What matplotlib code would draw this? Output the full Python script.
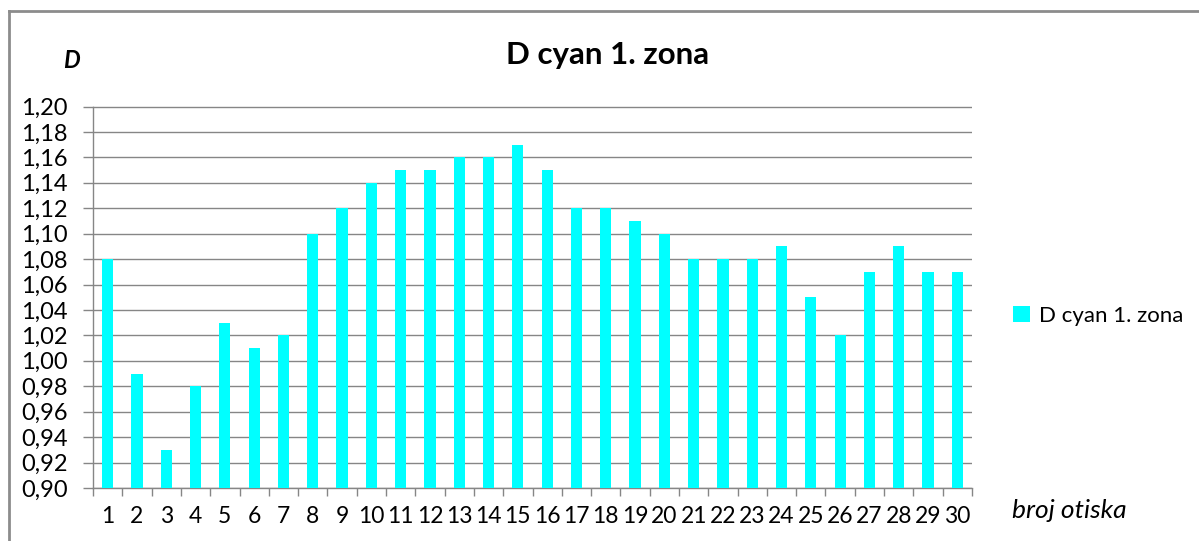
import matplotlib
matplotlib.use("Agg")
import matplotlib.pyplot as plt  # noqa: E402
from matplotlib.lines import Line2D  # noqa: E402
from matplotlib.patches import Patch  # noqa: E402
import numpy as np  # noqa: E402

plt.rcParams["font.family"] = ["Lato", "DejaVu Sans"]

prints = list(range(1, 31))
density = [1.08, 0.99, 0.93, 0.98, 1.03, 1.01, 1.02, 1.10, 1.12, 1.14,
           1.15, 1.15, 1.16, 1.16, 1.17, 1.15, 1.12, 1.12, 1.11, 1.10,
           1.08, 1.08, 1.08, 1.09, 1.05, 1.02, 1.07, 1.09, 1.07, 1.07]
y_ticks = np.round(np.arange(0.90, 1.2001, 0.02), 2)
series_name = "D cyan 1. zona"

W, H = 1199, 541
fig = plt.figure(figsize=(W / 100, H / 100), dpi=100)
ax = fig.add_axes([93 / W, 1 - 488 / H, (972 - 93) / W, (488 - 106.5) / H])

grid_c = "#868686"
x = np.arange(len(prints))
ax.bar(x, [d - 0.90 for d in density], bottom=0.90, width=0.38,
       color="#00FFFF", zorder=3)

ax.set_xlim(-0.5, len(prints) - 0.5)
ax.set_ylim(0.90, 1.20)
ax.set_yticks(y_ticks)
ax.set_yticklabels([f"{v:.2f}".replace(".", ",") for v in y_ticks])
ax.yaxis.grid(True, color=grid_c, linewidth=1.0, zorder=0)

ax.set_xticks(np.arange(-0.5, len(prints), 1.0))
ax.set_xticklabels([])
ax.set_xticks(x, minor=True)
ax.set_xticklabels([str(p) for p in prints], minor=True)
ax.tick_params(axis="x", which="major", direction="out", length=6,
               color=grid_c, width=1.0)
ax.tick_params(axis="x", which="minor", length=0, pad=13, labelsize=16.5)
ax.tick_params(axis="y", direction="out", length=7, color=grid_c,
               width=1.0, labelsize=17, pad=11)

for side in ["top", "right"]:
    ax.spines[side].set_visible(False)
for side in ["left", "bottom"]:
    ax.spines[side].set_color(grid_c)
    ax.spines[side].set_linewidth(1.0)

fig.text(608 / W, 1 - 55 / H, "D cyan 1. zona", ha="center", va="center",
         fontsize=22.5, fontweight="bold")
fig.text(71 / W, 1 - 60 / H, "D", ha="center", va="center",
         fontsize=17, fontweight="bold", style="italic")
fig.text(1069 / W, 1 - 511 / H, "broj otiska", ha="center", va="center",
         fontsize=19, style="italic")

handles = [Patch(facecolor="#00FFFF", edgecolor="none")]
fig.legend(handles, [series_name], loc="center left",
           bbox_to_anchor=(1013 / W, 1 - 316 / H), frameon=False,
           fontsize=16, handlelength=0.75, handleheight=0.75,
           handletextpad=0.4, borderaxespad=0, borderpad=0)

# chart frame
fig.add_artist(Line2D([9 / W, 1.0], [1 - 11 / H, 1 - 11 / H],
                      transform=fig.transFigure, color="#8c8c8c", lw=2))
fig.add_artist(Line2D([9 / W, 9 / W], [0.0, 1 - 11 / H],
                      transform=fig.transFigure, color="#8c8c8c", lw=2))

fig.savefig("out.png", dpi=100)
